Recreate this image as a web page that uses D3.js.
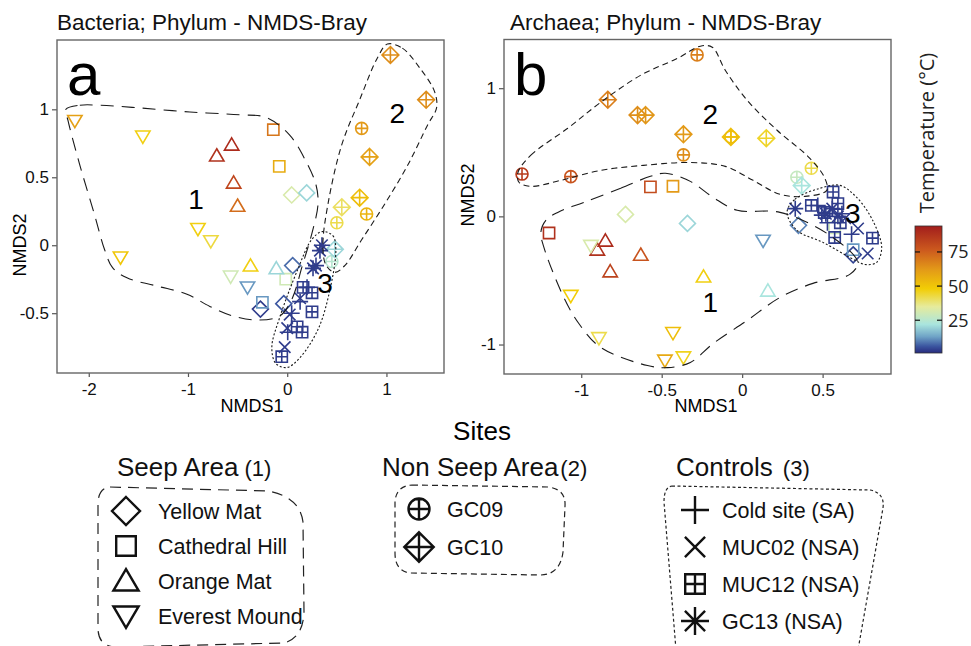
<!DOCTYPE html>
<html><head><meta charset="utf-8">
<script src="https://cdn.jsdelivr.net/npm/d3@7"></script>
<style>body{margin:0;background:#fff}</style>
</head><body>
<script>
// ---------------- DATA ----------------
const siteNames = ["Yellow Mat","Cathedral Hill","Orange Mat","Everest Mound","GC09","GC10","Cold site (SA)","MUC02 (NSA)","MUC12 (NSA)","GC13 (NSA)"];
const siteShapes = ["diamond","square","triUp","triDown","circlePlus","diamondPlus","plus","cross","squarePlus","asterisk"];

// Bacteria panel: [NMDS1, NMDS2, temperature]
const bacYellowMat = [[0.045,0.37,32],[0.196,0.385,20],[0.055,-0.15,8],[-0.27,-0.47,3],[-0.035,-0.43,6]];
const bacCathedralHill = [[-0.14,0.85,70],[-0.08,0.58,57],[-0.015,-0.25,30],[-0.25,-0.42,12]];
const bacOrangeMat = [[-0.71,0.66,88],[-0.56,0.74,90],[-0.54,0.46,82],[-0.50,0.29,72],[-0.37,-0.15,47],[-0.11,-0.17,20]];
const bacEverestMound = [[-2.14,0.915,60],[-1.455,0.80,47],[-0.90,0.12,47],[-0.77,0.03,43],[-1.68,-0.09,50],[-0.57,-0.23,30],[-0.40,-0.31,12]];
const bacGC09 = [[0.75,0.86,62],[0.80,0.23,55],[0.50,0.165,42],[0.45,-0.12,25]];
const bacGC10 = [[1.04,1.40,65],[1.40,1.07,65],[0.83,0.65,60],[0.73,0.35,52],[0.55,0.28,40],[0.48,-0.03,20]];
const bacColdSite = [[0.20,-0.31,3],[0.13,-0.415,3],[0.045,-0.50,3],[0.005,-0.64,3]];
const bacMUC02 = [[0.13,-0.39,3],[0.025,-0.51,3],[0.0,-0.61,3],[-0.025,-0.75,3]];
const bacMUC12 = [[0.16,-0.31,3],[0.25,-0.35,3],[0.25,-0.49,3],[0.10,-0.60,3],[0.15,-0.64,3],[-0.055,-0.82,3]];
const bacGC13 = [[0.35,0.0,3],[0.33,-0.04,3],[0.29,-0.15,3],[0.26,-0.17,3]];

// Archaea panel
const arcYellowMat = [[-0.725,0.015,32],[-0.34,-0.055,20],[0.35,-0.07,10],[0.69,-0.30,4]];
const arcCathedralHill = [[-0.57,0.23,80],[-0.43,0.235,62],[-1.20,-0.13,88],[0.575,-0.09,30],[0.69,-0.26,12]];
const arcOrangeMat = [[-0.85,-0.19,90],[-0.90,-0.26,88],[-0.63,-0.30,78],[-0.82,-0.43,83],[-0.24,-0.47,47],[0.16,-0.58,22]];
const arcEverestMound = [[-0.94,-0.23,32],[-1.065,-0.62,48],[-0.89,-0.95,42],[-0.43,-0.91,52],[-0.48,-1.125,58],[-0.365,-1.10,46],[0.13,-0.19,12]];
const arcGC09 = [[-1.368,0.33,85],[-1.065,0.31,78],[-0.28,1.26,68],[-0.365,0.48,65],[0.43,0.375,42],[0.34,0.305,28],[-0.07,0.62,52]];
const arcGC10 = [[-0.835,0.91,68],[-0.65,0.79,65],[-0.60,0.79,63],[-0.365,0.64,62],[-0.07,0.62,52],[0.15,0.61,45],[0.37,0.24,22]];
const arcColdSite = [[0.47,0.085,3],[0.495,0.01,3],[0.53,-0.05,3],[0.62,0.02,3],[0.68,-0.14,3]];
const arcMUC02 = [[0.72,-0.095,3],[0.78,-0.29,3],[0.64,-0.015,3]];
const arcMUC12 = [[0.565,0.19,3],[0.595,0.10,3],[0.43,0.085,3],[0.51,0.03,3],[0.575,-0.165,3],[0.81,-0.17,3],[0.61,-0.05,3]];
const arcGC13 = [[0.33,0.06,3],[0.52,0.02,3],[0.56,0.06,3],[0.595,0.0,3]];

// Group hulls (NMDS units)
const bacHull1 = [[-2.23,1.00],[-2.09,1.03],[-1.89,1.03],[-1.485,1.01],[-0.98,0.98],[-0.48,0.96],[-0.21,0.94],[0.025,0.81],[0.18,0.63],[0.29,0.445],[0.31,0.30],[0.245,0.077],[0.155,-0.143],[0.045,-0.40],[-0.075,-0.52],[-0.31,-0.55],[-0.55,-0.52],[-0.78,-0.45],[-1.01,-0.36],[-1.315,-0.30],[-1.615,-0.24],[-1.76,-0.165],[-1.84,-0.033],[-1.94,0.22],[-2.09,0.59],[-2.21,0.92]];
const bacHull2 = [[1.01,1.48],[1.16,1.45],[1.335,1.305],[1.485,1.13],[1.505,1.01],[1.415,0.885],[1.215,0.59],[0.98,0.30],[0.75,0.04],[0.58,-0.15],[0.48,-0.20],[0.39,-0.145],[0.36,0.004],[0.41,0.30],[0.55,0.74],[0.73,1.07],[0.91,1.38]];
const bacHull3 = [[0.35,0.10],[0.46,0.07],[0.49,-0.03],[0.43,-0.33],[0.31,-0.62],[0.125,-0.83],[-0.005,-0.90],[-0.115,-0.87],[-0.155,-0.75],[-0.075,-0.53],[0.105,-0.18],[0.245,0.04]];
const arcHull1 = [[-0.985,0.109],[-0.755,0.219],[-0.57,0.3125],[-0.477,0.336],[-0.322,0.273],[-0.18,0.148],[-0.031,0.047],[0.235,0.031],[0.545,-0.148],[0.718,-0.359],[0.669,-0.453],[0.44,-0.523],[0.235,-0.633],[0.031,-0.8125],[-0.18,-0.992],[-0.322,-1.14],[-0.464,-1.18],[-0.588,-1.164],[-0.879,-1.023],[-1.015,-0.836],[-1.108,-0.633],[-1.232,-0.242],[-1.251,-0.125],[-1.22,-0.031],[-1.146,0.031]];
const arcHull2 = [[-1.393,0.344],[-1.313,0.477],[-1.084,0.6875],[-0.879,0.89],[-0.632,1.10],[-0.40,1.234],[-0.26,1.328],[-0.186,1.32],[-0.105,1.14],[0.031,0.906],[0.217,0.672],[0.421,0.453],[0.514,0.297],[0.526,0.203],[0.39,0.156],[0.235,0.172],[0.068,0.281],[-0.105,0.39],[-0.32,0.42],[-0.613,0.398],[-0.879,0.359],[-1.127,0.281],[-1.313,0.234],[-1.387,0.266]];
const arcHull3 = [[0.279,0.031],[0.328,0.133],[0.483,0.219],[0.607,0.242],[0.712,0.148],[0.811,-0.031],[0.867,-0.242],[0.836,-0.359],[0.762,-0.375],[0.669,-0.32],[0.502,-0.203],[0.341,-0.109]];

// Ticks
const bacXTicks = [-2,-1,0,1];
const bacYTicks = [-0.5,0,0.5,1];
const arcXTicks = [-1,-0.5,0,0.5];
const arcYTicks = [-1,0,1];
const tempTicks = [25,50,75];
const tempStops = [1,6,13,22,35,48,62,76,94];
const tempColors = ["#272a7d","#3b56a0","#6fa3c6","#a9e5de","#e6eb9c","#f2cd05","#e39a18","#cd5b1e","#a21d1c"];

// ---------------- DRAW ----------------
const W = 971, H = 646;
const FONT = "'Liberation Sans', Arial, Helvetica, sans-serif";
const svg = d3.select("body").append("svg").attr("width", W).attr("height", H)
  .style("font-family", FONT);

const color = d3.scaleLinear().domain(tempStops).range(tempColors).interpolate(d3.interpolateRgb).clamp(true);

function shapePath(shape, s) {
  const f = v => (+v).toFixed(2);
  switch (shape) {
    case "diamond": return `M0,${f(-s)}L${f(s)},0L0,${f(s)}L${f(-s)},0Z`;
    case "square": { const h = s*0.7; return `M${f(-h)},${f(-h)}H${f(h)}V${f(h)}H${f(-h)}Z`; }
    case "triUp": { const w = s*0.9, t = s*0.85, b = s*0.68; return `M0,${f(-t)}L${f(w)},${f(b)}L${f(-w)},${f(b)}Z`; }
    case "triDown": { const w = s*0.9, t = s*0.85, b = s*0.68; return `M0,${f(t)}L${f(w)},${f(-b)}L${f(-w)},${f(-b)}Z`; }
    case "circlePlus": { const r = s*0.75; return `M${f(r)},0A${f(r)},${f(r)} 0 1,1 ${f(-r)},0A${f(r)},${f(r)} 0 1,1 ${f(r)},0ZM${f(-r)},0H${f(r)}M0,${f(-r)}V${f(r)}`; }
    case "diamondPlus": { const h = s*1.05; return `M0,${f(-h)}L${f(h)},0L0,${f(h)}L${f(-h)},0ZM${f(-h)},0H${f(h)}M0,${f(-h)}V${f(h)}`; }
    case "plus": return `M${f(-s)},0H${f(s)}M0,${f(-s)}V${f(s)}`;
    case "cross": { const h = s*0.72; return `M${f(-h)},${f(-h)}L${f(h)},${f(h)}M${f(-h)},${f(h)}L${f(h)},${f(-h)}`; }
    case "squarePlus": { const h = s*0.7; return `M${f(-h)},${f(-h)}H${f(h)}V${f(h)}H${f(-h)}ZM${f(-h)},0H${f(h)}M0,${f(-h)}V${f(h)}`; }
    case "asterisk": { const h = s*0.72; return `M${f(-s)},0H${f(s)}M0,${f(-s)}V${f(s)}M${f(-h)},${f(-h)}L${f(h)},${f(h)}M${f(-h)},${f(h)}L${f(h)},${f(-h)}`; }
  }
}

function drawPanel(cfg) {
  const x = d3.scaleLinear().domain(cfg.xDomain).range(cfg.xRange);
  const y = d3.scaleLinear().domain(cfg.yDomain).range(cfg.yRange);
  const g = svg.append("g");
  const [x0, x1] = cfg.xRange, [y1, y0] = cfg.yRange;

  const ax = g.append("g").attr("transform", `translate(0,${y1})`)
    .call(d3.axisBottom(x).tickValues(cfg.xTicks).tickFormat(d => String(d)).tickSize(4).tickPadding(6));
  const ay = g.append("g").attr("transform", `translate(${x0},0)`)
    .call(d3.axisLeft(y).tickValues(cfg.yTicks).tickFormat(d => String(d)).tickSize(5).tickPadding(3));
  [ax, ay].forEach(a => {
    a.select(".domain").remove();
    a.selectAll("line").attr("stroke", "#555").attr("stroke-width", 1.2);
    a.selectAll("text").attr("fill", "#111").style("font-size", "17px").style("font-family", FONT);
  });

  g.append("rect").attr("x", x0).attr("y", y0).attr("width", x1 - x0).attr("height", y1 - y0)
    .attr("fill", "none").attr("stroke", "#666").attr("stroke-width", 1.4);

  cfg.sets.forEach((set, i) => {
    g.append("g").selectAll("path").data(set).join("path")
      .attr("transform", d => `translate(${x(d[0])},${y(d[1])})`)
      .attr("d", shapePath(siteShapes[i], 8))
      .attr("fill", "none")
      .attr("stroke", d => color(d[2]))
      .attr("stroke-width", 1.6);
  });

  const line = d3.line().x(d => x(d[0])).y(d => y(d[1])).curve(d3.curveCatmullRomClosed.alpha(0.5));
  cfg.hulls.forEach((h, i) => {
    g.append("path").attr("d", line(h)).attr("fill", "none")
      .attr("stroke", "#1a1a1a").attr("stroke-width", 1.1)
      .attr("stroke-dasharray", ["13,8", "6,4", "2,2"][i]);
  });

  cfg.groupLabels.forEach((p, i) => {
    g.append("text").attr("x", x(p[0])).attr("y", y(p[1])).attr("text-anchor", "middle")
      .attr("dy", "0.36em").style("font-size", "28px").attr("fill", "#000").text(String(i + 1));
  });

  g.append("text").attr("x", x0 + 10).attr("y", 95).style("font-size", "60px").text(cfg.letter);
  g.append("text").attr("x", cfg.titleX).attr("y", 30).style("font-size", "22.5px").attr("fill", "#111").text(cfg.title);
  g.append("text").attr("x", cfg.xLabelX).attr("y", 412).attr("text-anchor", "middle")
    .style("font-size", "18px").text("NMDS1");
  g.append("text").attr("transform", `translate(${cfg.yLabelX},${cfg.yLabelY}) rotate(-90)`)
    .attr("text-anchor", "middle").style("font-size", "18px").text("NMDS2");
}

drawPanel({
  xDomain: [-2.32, 1.58], xRange: [57, 444],
  yDomain: [-0.94, 1.51], yRange: [373, 40],
  xTicks: bacXTicks, yTicks: bacYTicks,
  sets: [bacYellowMat, bacCathedralHill, bacOrangeMat, bacEverestMound, bacGC09, bacGC10, bacColdSite, bacMUC02, bacMUC12, bacGC13],
  hulls: [bacHull1, bacHull2, bacHull3],
  groupLabels: [[-0.92, 0.34], [1.11, 0.97], [0.38, -0.28]],
  letter: "a", title: "Bacteria; Phylum - NMDS-Bray", titleX: 57,
  xLabelX: 252, yLabelX: 26, yLabelY: 245
});
drawPanel({
  xDomain: [-1.48, 0.925], xRange: [504, 891],
  yDomain: [-1.23, 1.38], yRange: [374, 39.5],
  xTicks: arcXTicks, yTicks: arcYTicks,
  sets: [arcYellowMat, arcCathedralHill, arcOrangeMat, arcEverestMound, arcGC09, arcGC10, arcColdSite, arcMUC02, arcMUC12, arcGC13],
  hulls: [arcHull1, arcHull2, arcHull3],
  groupLabels: [[-0.198, -0.67], [-0.198, 0.80], [0.687, 0.03]],
  letter: "b", title: "Archaea; Phylum - NMDS-Bray", titleX: 510,
  xLabelX: 706, yLabelX: 474, yLabelY: 195
});

// ---------------- COLOUR BAR ----------------
const cb = { x: 915, w: 27, top: 226, bottom: 353 };
const ty = d3.scaleLinear().domain([tempStops[0], tempStops[tempStops.length - 1]]).range([cb.bottom, cb.top]);
const defs = svg.append("defs");
const grad = defs.append("linearGradient").attr("id", "tgrad")
  .attr("x1", 0).attr("y1", 1).attr("x2", 0).attr("y2", 0);
tempStops.forEach((t, i) => {
  grad.append("stop").attr("offset", (t - tempStops[0]) / (tempStops[tempStops.length - 1] - tempStops[0]))
    .attr("stop-color", tempColors[i]);
});
svg.append("rect").attr("x", cb.x).attr("y", cb.top).attr("width", cb.w).attr("height", cb.bottom - cb.top)
  .attr("fill", "url(#tgrad)").attr("stroke", "#333").attr("stroke-width", 0.8);
tempTicks.forEach(t => {
  svg.append("line").attr("x1", cb.x).attr("x2", cb.x + 5).attr("y1", ty(t)).attr("y2", ty(t)).attr("stroke", "#111").attr("stroke-width", 1.2);
  svg.append("line").attr("x1", cb.x + cb.w - 5).attr("x2", cb.x + cb.w).attr("y1", ty(t)).attr("y2", ty(t)).attr("stroke", "#111").attr("stroke-width", 1.2);
  svg.append("text").attr("x", 948).attr("y", ty(t)).attr("dy", "0.36em")
    .style("font-family", "'Open Sans', sans-serif").style("font-size", "18px").attr("fill", "#222").text(String(t));
});
svg.append("text").attr("transform", "translate(934,133) rotate(-90)").attr("text-anchor", "middle")
  .style("font-family", "'Open Sans', sans-serif").style("font-size", "20px").attr("fill", "#222")
  .text("Temperature (°C)");

// ---------------- LEGEND ----------------
svg.append("text").attr("x", 482).attr("y", 440).attr("text-anchor", "middle").style("font-size", "26px").text("Sites");

const legendGroups = [
  { title: "Seep Area", num: "(1)", numDx: 6, tx: 117, ty: 476, items: [0,1,2,3], sx: 126, lx: 158, y0: 511, dy: 35,
    box: "M110,487 L268,491 Q300,497 303,522 L304,612 Q303,638 284,643 L115,647 Q98,646 98,628 L98,502 Q99,488 110,487 Z", dash: "11,7" },
  { title: "Non Seep Area", num: "(2)", numDx: 2, tx: 382, ty: 476, items: [4,5], sx: 419, lx: 447, y0: 509, dy: 38,
    box: "M412,485 L548,487 Q566,489 565,506 L563,552 Q560,575 540,575 L410,573 Q395,571 395,553 L395,502 Q396,486 412,485 Z", dash: "6,4" },
  { title: "Controls", num: "(3)", numDx: 10, tx: 676, ty: 476, items: [6,7,8,9], sx: 695, lx: 722, y0: 510, dy: 37,
    box: "M672,486 L870,490 Q885,493 883,508 L858,650 L676,650 L664,502 Q664,487 672,486 Z", dash: "3,2.5" }
];
legendGroups.forEach(gr => {
  const t = svg.append("text").attr("x", gr.tx).attr("y", gr.ty).style("font-size", "26px").attr("fill", "#111");
  t.append("tspan").text(gr.title);
  t.append("tspan").attr("dx", gr.numDx).style("font-size", "22px").text(gr.num);
  svg.append("path").attr("d", gr.box).attr("fill", "none").attr("stroke", "#222")
    .attr("stroke-width", 1.2).attr("stroke-dasharray", gr.dash);
  gr.items.forEach((si, k) => {
    const yy = gr.y0 + k * gr.dy;
    svg.append("path").attr("transform", `translate(${gr.sx},${yy})`)
      .attr("d", shapePath(siteShapes[si], 14)).attr("fill", "none").attr("stroke", "#111").attr("stroke-width", 2.4);
    svg.append("text").attr("x", gr.lx).attr("y", yy).attr("dy", "0.36em").style("font-size", "21.5px")
      .attr("fill", "#111").text(siteNames[si]);
  });
});
</script>
</body></html>
